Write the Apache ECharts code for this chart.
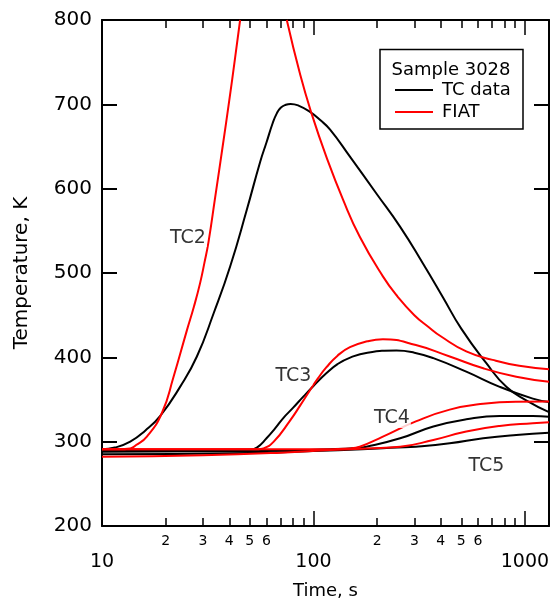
<!DOCTYPE html>
<html><head><meta charset="utf-8">
<script src="https://cdn.jsdelivr.net/npm/echarts@6/dist/echarts.min.js"></script>
<style>html,body{margin:0;padding:0;background:#fff}#c{width:560px;height:601px}</style>
</head><body><div id="c"></div>
<script>
// ---- data (time in s, temperature in K) ----
const tc2DataTime = [10, 11.5, 13.6, 16, 18.9, 23.4, 28.1, 33.7, 40.4, 48.4, 56, 60, 64, 67, 70, 74, 78, 85, 96.3, 108, 119.9, 148.8, 198.8, 256.7, 330, 410, 500, 657, 817, 1014, 1300];
const tc2DataTemp = [291, 293, 300, 313, 331, 365, 401, 452, 508, 575, 632, 655, 677, 689, 696, 699.5, 700.5, 698.5, 691, 681, 670, 638, 594, 555, 511, 471, 434, 393, 365, 349, 335];
const tc2FiatTime = [10, 12, 13.6, 14.5, 16.3, 19.2, 21.8, 25.2, 27.2, 29.1, 30.5, 31.9, 34.3, 37.2, 40, 42.6, 45, 60, 74.8, 86.6, 98, 115, 138, 165.6, 213, 250, 300, 350, 400, 528, 704, 940, 1300];
const tc2FiatTemp = [291, 291, 292, 296, 306, 334, 377, 432, 460, 488, 512, 537, 590, 650, 705, 755, 800, '-', 800, 735, 689, 638, 587, 543, 496, 472, 450, 436, 425, 407, 397, 390, 386];
const tc3DataTime = [10, 50, 54, 60, 66, 72, 80, 90, 100, 115, 130, 150, 180, 247, 300, 369, 528, 760, 1090, 1300];
const tc3DataTemp = [289.5, 290.5, 293, 304, 316, 328, 340, 354, 366, 381, 392, 400, 405.5, 408, 405.5, 399, 383, 365, 351, 347];
const tc3FiatTime = [10, 55, 58, 64.9, 77.5, 86.6, 96.3, 105, 115, 130, 148.8, 180, 213, 305, 441, 635, 910, 1300];
const tc3FiatTemp = [291, 291, 292, 300, 325, 343, 361, 375, 388, 402, 412, 419, 421.4, 414.6, 401, 387, 377, 371];
const tc4DataTime = [10, 60, 120, 160, 178, 257, 369, 528, 760, 1090, 1300];
const tc4DataTemp = [288, 289, 291, 292.5, 294, 304, 318, 326.5, 330.4, 330.4, 329.6];
const tc4FiatTime = [10, 100, 150, 165.6, 213, 305, 441, 635, 910, 1300];
const tc4FiatTemp = [291, 291, 292, 294, 306, 324, 338, 345, 347.4, 347.5];
const tc5DataTime = [10, 50, 100, 170, 250, 305, 441, 635, 910, 1300];
const tc5DataTemp = [285, 286.5, 289, 291, 293, 294, 298, 304, 308, 310.6];
const tc5FiatTime = [10, 30, 70, 120, 180, 257, 369, 528, 760, 1090, 1300];
const tc5FiatTemp = [282, 284, 287, 290, 292, 294, 302, 312, 318.6, 321.8, 323];

const curveLabels = ['TC2', 'TC3', 'TC4', 'TC5'];
const curveLabelTime = [25.5, 80.4, 235, 658];
const curveLabelTemp = [542, 378, 327.5, 271];

const xMajorLabels = [10, 100, 1000];
const xMajorTicks = [100, 1000];
const xMinorTicks = [20, 30, 40, 50, 60, 70, 80, 90, 200, 300, 400, 500, 600, 700, 800, 900];
const xMinorLabels = [20, 30, 40, 50, 60, 200, 300, 400, 500, 600];
const yMin = 200, yMax = 800, yStep = 100;

const FONT = 'DejaVu Sans';
const zip = (a, b) => a.map((v, i) => [v, b[i]]);

const chart = echarts.init(document.getElementById('c'), null, {renderer: 'canvas'});

function lineSeries(name, time, temp, color) {
  return {
    type: 'line', name: name, data: zip(time, temp), xAxisIndex: 0, yAxisIndex: 0,
    symbol: 'none', showSymbol: false, smooth: 0.5, connectNulls: false,
    lineStyle: {color: color, width: 2}, itemStyle: {color: color},
    silent: true, clip: true, z: color === '#000000' ? 2 : 3
  };
}

const axLine = {show: true, lineStyle: {color: '#000', width: 2}};
const xBase = {type: 'log', logBase: 10, min: 10, max: 1300, gridIndex: 0, splitLine: {show: false}, minorTick: {show: false}, minorSplitLine: {show: false}};

const option = {
  animation: false,
  backgroundColor: '#fff',
  grid: {left: 102, right: 11, top: 20, bottom: 75, containLabel: false, outerBoundsMode: 'none'},
  xAxis: [
    Object.assign({}, xBase, {
      position: 'bottom', axisLine: axLine,
      axisTick: {show: true, inside: true, length: 15, lineStyle: {color: '#000', width: 1.5}, customValues: xMajorTicks},
      axisLabel: {show: true, customValues: xMajorLabels, margin: 27, fontSize: 19, color: '#000', fontFamily: FONT, formatter: v => String(Math.round(v))},
      name: 'Time, s', nameLocation: 'middle', nameGap: 56,
      nameTextStyle: {fontSize: 18, color: '#000', fontFamily: FONT}
    }),
    Object.assign({}, xBase, {
      position: 'bottom', axisLine: {show: false},
      axisTick: {show: true, inside: true, length: 8, lineStyle: {color: '#000', width: 1.5}, customValues: xMinorTicks},
      axisLabel: {show: true, customValues: xMinorLabels, margin: 8, fontSize: 14, color: '#000', fontFamily: FONT,
        formatter: v => String(Math.round(v / Math.pow(10, Math.floor(Math.log10(v) + 1e-9))))}
    }),
    Object.assign({}, xBase, {
      position: 'top', axisLine: axLine,
      axisTick: {show: true, inside: true, length: 15, lineStyle: {color: '#000', width: 1.5}, customValues: xMajorTicks},
      axisLabel: {show: false}
    }),
    Object.assign({}, xBase, {
      position: 'top', axisLine: {show: false},
      axisTick: {show: true, inside: true, length: 8, lineStyle: {color: '#000', width: 1.5}, customValues: xMinorTicks},
      axisLabel: {show: false}
    })
  ],
  yAxis: [
    {type: 'value', min: yMin, max: yMax, interval: yStep, position: 'left', gridIndex: 0,
      axisLine: axLine, splitLine: {show: false},
      axisTick: {show: true, inside: true, length: 15, lineStyle: {color: '#000', width: 2}},
      axisLabel: {show: true, margin: 10, fontSize: 20, color: '#000', fontFamily: FONT},
      name: 'Temperature, K', nameLocation: 'middle', nameGap: 70, nameRotate: 90,
      nameTextStyle: {fontSize: 20, color: '#000', fontFamily: FONT}
    },
    {type: 'value', min: yMin, max: yMax, interval: yStep, position: 'right', gridIndex: 0,
      axisLine: axLine, splitLine: {show: false},
      axisTick: {show: true, inside: true, length: 15, lineStyle: {color: '#000', width: 2}},
      axisLabel: {show: false}
    }
  ],
  legend: {
    data: [{name: 'TC data', icon: 'rect'}, {name: 'FIAT', icon: 'rect'}],
    orient: 'vertical', left: 395, top: 80, padding: 0,
    itemWidth: 38, itemHeight: 2, itemGap: 2, z: 10,
    textStyle: {fontSize: 18, color: '#000', fontFamily: FONT, lineHeight: 20, padding: [0, 0, 0, 4]},
    selectedMode: false
  },
  graphic: [
    {type: 'rect', z: 5, shape: {x: 380, y: 49.5, width: 143, height: 79.5},
      style: {fill: '#fff', stroke: '#000', lineWidth: 1.5}},
    {type: 'text', z: 6, x: 391.5, y: 70,
      style: {text: 'Sample 3028', fontSize: 18, fontFamily: FONT, fill: '#000', verticalAlign: 'middle', align: 'left'}}
  ],
  series: [
    lineSeries('TC data', tc2DataTime, tc2DataTemp, '#000000'),
    lineSeries('TC data', tc3DataTime, tc3DataTemp, '#000000'),
    lineSeries('TC data', tc4DataTime, tc4DataTemp, '#000000'),
    lineSeries('TC data', tc5DataTime, tc5DataTemp, '#000000'),
    lineSeries('FIAT', tc2FiatTime, tc2FiatTemp, '#ff0000'),
    lineSeries('FIAT', tc3FiatTime, tc3FiatTemp, '#ff0000'),
    lineSeries('FIAT', tc4FiatTime, tc4FiatTemp, '#ff0000'),
    lineSeries('FIAT', tc5FiatTime, tc5FiatTemp, '#ff0000'),
    {
      type: 'scatter', name: 'labels', xAxisIndex: 0, yAxisIndex: 0, symbolSize: 0, silent: true, z: 8,
      data: curveLabels.map((n, i) => ({name: n, value: [curveLabelTime[i], curveLabelTemp[i]]})),
      label: {show: true, position: 'inside', formatter: p => p.name, fontSize: 19, color: '#000', fontFamily: FONT,
        backgroundColor: '#fff', padding: [0, 1]}
    }
  ]
};
chart.setOption(option);
</script>
</body></html>
